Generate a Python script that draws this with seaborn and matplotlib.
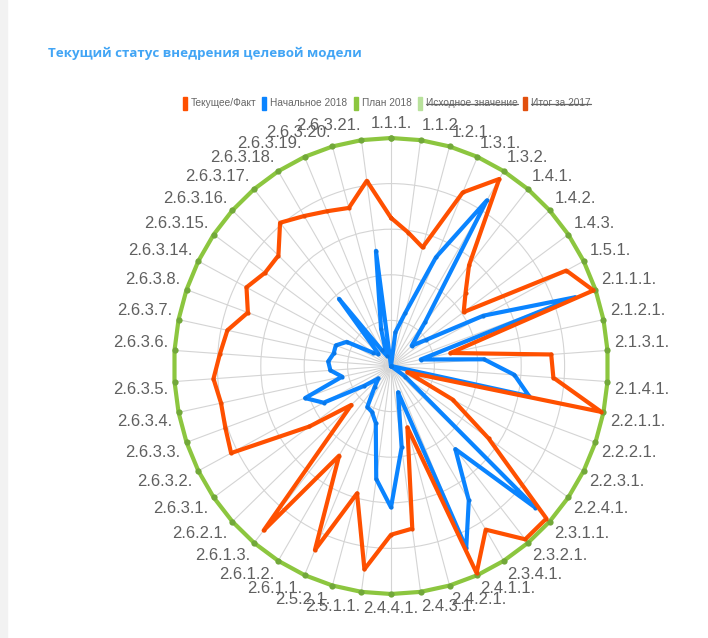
import numpy as np
import pandas as pd
import matplotlib
matplotlib.use("Agg")
import matplotlib.pyplot as plt
import seaborn as sns
from matplotlib.patches import Rectangle
from matplotlib.lines import Line2D

sns.set_style("white")
plt.rcParams['font.family'] = ['Liberation Sans', 'DejaVu Sans']

# ----------------------------------
# Data (0-100 scale)
# ----------------------------------
categories = [
    "1.1.1.", "1.1.2.", "1.2.1.", "1.3.1.", "1.3.2.", "1.4.1.", "1.4.2.", "1.4.3.", "1.5.1.",
    "2.1.1.1.", "2.1.2.1.", "2.1.3.1.", "2.1.4.1.",
    "2.2.1.1.", "2.2.2.1.", "2.2.3.1.", "2.2.4.1.",
    "2.3.1.1.", "2.3.2.1.", "2.3.4.1.",
    "2.4.1.1.", "2.4.2.1.", "2.4.3.1.", "2.4.4.1.",
    "2.5.1.1.", "2.5.2.1.",
    "2.6.1.1.", "2.6.1.2.", "2.6.1.3.", "2.6.2.1.",
    "2.6.3.1.", "2.6.3.2.", "2.6.3.3.", "2.6.3.4.", "2.6.3.5.", "2.6.3.6.", "2.6.3.7.", "2.6.3.8.",
    "2.6.3.14.", "2.6.3.15.", "2.6.3.16.", "2.6.3.17.", "2.6.3.18.", "2.6.3.19.", "2.6.3.20.", "2.6.3.21.",
]

current = [65, 59, 54, 83, 96, 57, 47, 41, 91,
           99, 28, 74, 75,
           99, 8, 32, 55,
           98, 98, 84,
           99, 28, 72, 74,
           90, 58,
           88, 46, 93, 25,
           46, 83, 81, 80, 82, 79, 77, 70,
           75, 71, 71, 81, 77, 74, 72, 82]

initial = [0, 15, 24, 52, 85, 25, 13, 20, 48,
           90, 14, 43, 57,
           65, 0, 0, 8,
           91, 47, 69,
           87, 12, 36, 62,
           50, 26,
           22, 21, 12, 8,
           15, 35, 42, 23, 28, 29, 27, 27,
           23, 10, 8, 38, 8, 5, 17, 51]

plan = [100, 100, 100, 100, 100, 100, 100, 100, 100,
        100, 100, 100, 100,
        100, 100, 100, 100,
        100, 100, 100,
        100, 100, 100, 100,
        100, 100,
        100, 100, 100, 100,
        100, 100, 100, 100, 100, 100, 100, 100,
        100, 100, 100, 100, 100, 100, 100, 100]

legend_labels = ["Текущее/Факт", "Начальное 2018", "План 2018", "Исходное значение", "Итог за 2017"]
legend_colors = ["#ff5000", "#0a84ff", "#8cc63f", "#b9e29c", "#e2500e"]
legend_hidden = [False, False, False, True, True]

title = "Текущий статус внедрения целевой модели"

W, H = 708, 638
fig = plt.figure(figsize=(W / 100, H / 100), dpi=100)


def px(x):
    return x / W


def py(y):
    return 1 - y / H


# radar area (the reference is slightly squeezed horizontally)
cx, cy, rx, ry = 391, 366, 217, 228
ax = fig.add_axes([px(cx - rx), py(cy + ry), 2 * rx / W, 2 * ry / H], projection="polar")
ax.set_aspect("auto")
ax.set_theta_zero_location("N")
ax.set_theta_direction(-1)

n = len(categories)
theta = np.arange(n) * 2 * np.pi / n
theta_closed = np.append(theta, 2 * np.pi)

df = pd.DataFrame({"theta": theta, "current": current, "initial": initial, "plan": plan})


def closed(col):
    v = df[col].to_numpy()
    return np.append(v, v[0])


series = [
    ("plan", "#8cc63f", "#72a83a", 4.5, 1),
    ("initial", "#0a84ff", "#0a78e8", 3, 2),
    ("current", "#ff5000", "#f04a00", 3, 3),
]
for col, color, mcolor, ms, z in series:
    sns.lineplot(x=theta_closed, y=closed(col), ax=ax, sort=False, estimator=None,
                 color=color, linewidth=3, marker="o", markersize=ms,
                 markerfacecolor=mcolor, markeredgewidth=0, zorder=z, clip_on=False)

ax.set_ylim(0, 100)
ax.set_rgrids([20, 40, 60, 80, 100], labels=[])
ax.set_thetagrids(np.degrees(theta), labels=[])
ax.grid(True, color="#d4d4d4", linewidth=0.8)
ax.spines["polar"].set_visible(False)
ax.set_xlabel("")
ax.set_ylabel("")

# point labels, Chart.js style
for th, lab in zip(theta, categories):
    deg = np.degrees(th)
    if np.isclose(deg, 0) or np.isclose(deg, 180):
        ha = "center"
    elif deg < 180:
        ha = "left"
    else:
        ha = "right"
    if deg < 90 or deg > 270:
        va = "bottom"
    else:
        va = "top"
    ax.text(th, 103, lab, ha=ha, va=va, fontsize=12, color="#606060", clip_on=False)

# title
fig.text(px(48), py(53), title, fontsize=9.6, fontweight="bold", color="#42a5f5",
         family=["Open Sans", "DejaVu Sans"], va="center", ha="left")

# legend
box_x = [183, 262, 354, 418, 523]
legend_texts = []
for x, lab, col, hid in zip(box_x, legend_labels, legend_colors, legend_hidden):
    fig.patches.append(Rectangle((px(x), py(110)), 4 / W, 13 / H, color=col,
                                 transform=fig.transFigure, figure=fig))
    t = fig.text(px(x + 8), py(103.5), lab, fontsize=7.3, color="#666666", va="center", ha="left")
    legend_texts.append((t, hid))

fig.canvas.draw()
r = fig.canvas.get_renderer()
for t, hid in legend_texts:
    if hid:
        bb = t.get_window_extent(r)
        ymid = (bb.y0 + bb.y1) / 2 / H
        fig.lines.append(Line2D([bb.x0 / W, bb.x1 / W], [ymid, ymid], color="#666666",
                                linewidth=0.9, transform=fig.transFigure))

# card edge on the left
fig.patches.append(Rectangle((0, 0), 7 / W, 1, color="#f2f2f2", transform=fig.transFigure, figure=fig))

fig.savefig("out.png", dpi=100)
